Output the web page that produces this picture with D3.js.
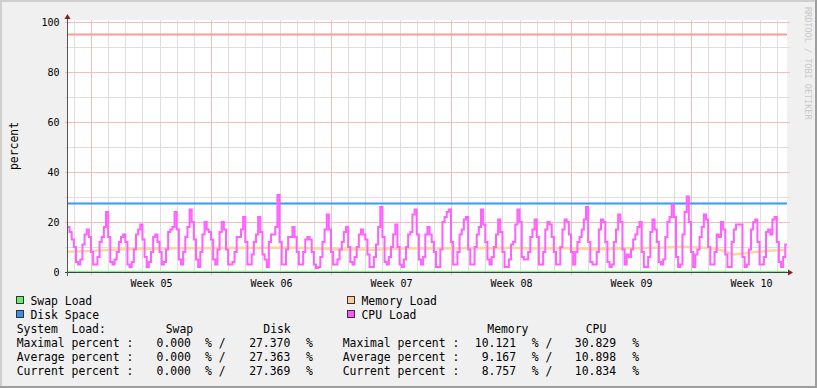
<!DOCTYPE html>
<html>
<head>
<meta charset="utf-8">
<script src="https://cdn.jsdelivr.net/npm/d3@7"></script>
<style>
  body { margin: 0; background: #f0f0f0; }
  svg text { font-family: "DejaVu Sans Mono", monospace; white-space: pre; }
</style>
</head>
<body>
<div id="chart"></div>
<script>
// time is in hours, 0 = monday of week 05
var weekLabels = ["Week 05", "Week 06", "Week 07", "Week 08", "Week 09", "Week 10"];
var yTicks = [0, 20, 40, 60, 80, 100];
var threshold = 95;

// cpu load, 8 samples (3h) per day, days -2 .. 40
var cpuLoad = [
  6, 3, 3, 8, 18, 18, 16, 13,
  10, 4, 3, 5, 11, 15, 17, 14,
  8, 3, 3, 6, 12, 14, 18, 24,
  14, 4, 3, 5, 8, 12, 14, 15,
  12, 3, 2, 4, 9, 15, 17, 19,
  13, 6, 2, 4, 8, 14, 15, 12,
  8, 3, 4, 9, 16, 17, 18, 24,
  17, 5, 3, 8, 14, 18, 25, 20,
  13, 5, 2, 8, 15, 20, 17, 16,
  13, 5, 3, 9, 16, 20, 17, 9,
  3, 3, 4, 8, 14, 14, 17, 22,
  12, 3, 3, 7, 12, 15, 22, 16,
  7, 5, 2, 12, 15, 15, 18, 30.83,
  12, 3, 3, 9, 14, 14, 18, 14,
  8, 3, 3, 8, 13, 14, 13, 8,
  3, 1.5, 2, 6, 12, 17, 23, 17,
  8, 3, 3, 5, 9, 12, 16, 18,
  10, 4, 3, 6, 10, 15, 17, 15,
  13, 7, 2, 2, 6, 11, 18, 26,
  14, 4, 3, 6, 10, 15, 19, 10,
  3, 2, 5, 10, 15, 16, 23, 25,
  15, 5, 3, 6, 15, 18, 15, 12,
  8, 2, 2, 9, 20, 22, 24, 25,
  12, 3, 3, 8, 15, 17, 21, 22,
  9, 3, 3, 10, 15, 18, 25, 19,
  12, 5, 3, 6, 10, 15, 21, 16,
  8, 2, 2, 5, 11, 12, 19, 25,
  20, 6, 5, 5, 8, 14, 17, 21,
  14, 3, 3, 8, 17, 20, 19, 14,
  8, 3, 3, 10, 17, 21, 20, 15,
  8, 3, 8, 12, 14, 17, 21, 26,
  12, 4, 3, 3, 8, 17, 21, 20,
  12, 4, 2, 3, 12, 17, 23, 20,
  9, 3, 7, 6, 9, 13, 15, 18,
  20, 8, 2, 2, 6, 16, 21, 17,
  12, 4, 3, 5, 14, 20, 22, 27,
  22, 6, 2, 3, 15, 24, 30.2, 20,
  8, 2, 7, 9, 14, 18, 23, 21,
  10, 3, 3, 8, 15, 14, 20, 17,
  7, 2, 2, 12, 17, 19, 19, 19,
  6, 2, 3, 9, 17, 20, 21, 12,
  3, 3, 6, 16, 17, 15, 21, 22,
  12, 4, 2, 6, 11, 11, 11, 11
];

// memory load, one value per day (noon), days -2 .. 40
var memoryLoad = [8.1, 8.3, 8.6, 9.0, 9.2, 9.3, 9.4, 9.6, 9.5, 9.6, 9.7, 9.6, 9.7, 9.8, 9.6,
  9.3, 9.0, 9.1, 8.9, 9.2, 9.4, 9.5, 9.4, 9.5, 9.6, 9.5, 9.7, 9.4, 9.5, 9.6, 9.3, 9.1, 9.3,
  9.5, 9.6, 9.8, 10.1, 9.8, 9.3, 7.0, 7.8, 8.5, 8.8];

var diskSpace = [27.36, 27.36, 27.36, 27.36, 27.36, 27.37, 27.37, 27.37];
var swapLoad = [0, 0, 0, 0, 0, 0, 0, 0];

var statRows = ["Maximal percent :", "Average percent :", "Current percent :"];
var statSwap = ["0.000", "0.000", "0.000"];
var statDisk = ["27.370", "27.363", "27.369"];
var statMemory = ["10.121", "9.167", "8.757"];
var statCpu = ["30.829", "10.898", "10.834"];

var width = 817, height = 388;
var pLeft = 67, pRight = 787, pTop = 22, pBottom = 272;

var svg = d3.select("#chart").append("svg")
    .attr("width", width).attr("height", height);

// frame
svg.append("rect").attr("width", width).attr("height", height).attr("fill", "#f0f0f0");
svg.append("rect").attr("x", 0).attr("y", 0).attr("width", width).attr("height", 2).attr("fill", "#cfcfcf");
svg.append("rect").attr("x", 0).attr("y", 0).attr("width", 2).attr("height", height).attr("fill", "#cfcfcf");
svg.append("rect").attr("x", width - 2).attr("y", 0).attr("width", 2).attr("height", height).attr("fill", "#9e9e9e");
svg.append("rect").attr("x", 0).attr("y", height - 2).attr("width", width).attr("height", 2).attr("fill", "#9e9e9e");

var x = d3.scaleLinear().domain([-33.6, 974.4]).range([pLeft, pRight]);
var y = d3.scaleLinear().domain([0, 100]).range([pBottom, pTop]);

// canvas
svg.append("rect").attr("x", pLeft).attr("y", pTop - 2)
    .attr("width", pRight - pLeft).attr("height", pBottom - pTop + 2).attr("fill", "#fff");

var grid = svg.append("g").attr("shape-rendering", "crispEdges");

// minor grid: days and 10%
var days = d3.range(-1, 41).map(function(d) { return d * 24; }).filter(function(h) { return h % 168 !== 0; });
grid.selectAll(".vminor").data(days).enter().append("line")
    .attr("x1", function(d) { return Math.round(x(d)) + 0.5; })
    .attr("x2", function(d) { return Math.round(x(d)) + 0.5; })
    .attr("y1", pTop - 2).attr("y2", pBottom + 2)
    .attr("stroke", "#dedede");
grid.selectAll(".hminor").data(d3.range(10, 100, 20)).enter().append("line")
    .attr("x1", pLeft - 2).attr("x2", pRight + 3)
    .attr("y1", function(d) { return Math.round(y(d)) + 0.5; })
    .attr("y2", function(d) { return Math.round(y(d)) + 0.5; })
    .attr("stroke", "#dedede");

// major grid: weeks and 20%
var weeks = d3.range(0, 6).map(function(d) { return d * 168; });
grid.selectAll(".vmajor").data(weeks).enter().append("line")
    .attr("x1", function(d) { return Math.round(x(d)) + 0.5; })
    .attr("x2", function(d) { return Math.round(x(d)) + 0.5; })
    .attr("y1", pTop - 2).attr("y2", pBottom + 3)
    .attr("stroke", "#f5bcbc");
grid.selectAll(".hmajor").data(yTicks.slice(1)).enter().append("line")
    .attr("x1", pLeft - 2).attr("x2", pRight + 3)
    .attr("y1", function(d) { return Math.round(y(d)) + 0.5; })
    .attr("y2", function(d) { return Math.round(y(d)) + 0.5; })
    .attr("stroke", "#f5bcbc");

// data
svg.append("clipPath").attr("id", "clip").append("rect")
    .attr("x", pLeft).attr("y", 0).attr("width", pRight - pLeft).attr("height", pBottom + 2);
var plot = svg.append("g").attr("clip-path", "url(#clip)");

var stepLine = d3.line().curve(d3.curveStepAfter)
    .x(function(d) { return x(d[0]); }).y(function(d) { return y(d[1]); });
var smoothLine = d3.line()
    .x(function(d) { return x(d[0]); }).y(function(d) { return y(d[1]); });

var swapPts = swapLoad.map(function(v, i) { return [-48 + i * 168, v]; });
var diskPts = diskSpace.map(function(v, i) { return [-48 + i * 168, v]; });
var memPts = memoryLoad.map(function(v, i) { return [-36 + i * 24, v]; });
var cpuPts = cpuLoad.map(function(v, i) { return [-48 + i * 3, v]; });

plot.append("path").attr("d", stepLine(swapPts)).attr("fill", "none")
    .attr("stroke", "#66ff66").attr("stroke-width", 2);
plot.append("path").attr("d", smoothLine(memPts)).attr("fill", "none")
    .attr("stroke", "#ffd49c").attr("stroke-width", 2.5);
plot.append("path").attr("d", stepLine(diskPts)).attr("fill", "none")
    .attr("stroke", "#3399ff").attr("stroke-width", 2);
plot.append("path").attr("d", stepLine(cpuPts)).attr("fill", "none")
    .attr("stroke", "#ff60ff").attr("stroke-width", 2);

// threshold rule
svg.append("line").attr("x1", pLeft).attr("x2", pRight)
    .attr("y1", y(threshold)).attr("y2", y(threshold))
    .attr("stroke", "#ff9999").attr("stroke-width", 2);

// axes
var axisColor = "#2c4d43";
svg.append("line").attr("x1", pLeft - 2).attr("x2", pRight + 3)
    .attr("y1", pBottom + 0.5).attr("y2", pBottom + 0.5)
    .attr("stroke", axisColor).attr("shape-rendering", "crispEdges");
svg.append("line").attr("x1", pLeft + 0.5).attr("x2", pLeft + 0.5)
    .attr("y1", pTop - 4).attr("y2", pBottom + 4)
    .attr("stroke", "#555").attr("shape-rendering", "crispEdges");
svg.append("path").attr("d", "M" + (pRight + 1) + "," + (pBottom - 2.5) + "L" + (pRight + 6) + "," + (pBottom + 0.5) + "L" + (pRight + 1) + "," + (pBottom + 3.5) + "Z")
    .attr("fill", "#7f1f1f");
svg.append("path").attr("d", "M" + (pLeft - 2.5) + "," + (pTop - 3) + "L" + (pLeft + 0.5) + "," + (pTop - 8) + "L" + (pLeft + 3.5) + "," + (pTop - 3) + "Z")
    .attr("fill", "#7f1f1f");

var xAxis = d3.axisBottom(x)
    .tickValues(weekLabels.map(function(d, i) { return i * 168 + 84; }))
    .tickFormat(function(d, i) { return weekLabels[i]; })
    .tickSize(0).tickPadding(0);
var gx = svg.append("g").attr("transform", "translate(0," + pBottom + ")").call(xAxis);
gx.select(".domain").remove();
gx.selectAll("text").attr("dy", null).attr("y", 15)
    .attr("font-family", "DejaVu Sans Mono").attr("font-size", "10px").attr("fill", "#000");

var yAxis = d3.axisLeft(y).tickValues(yTicks).tickSize(0).tickPadding(0);
var gy = svg.append("g").attr("transform", "translate(" + (pLeft - 7.5) + ",0)").call(yAxis);
gy.select(".domain").remove();
gy.selectAll("text").attr("dy", "0.36em").attr("x", 0)
    .attr("font-family", "DejaVu Sans Mono").attr("font-size", "10px").attr("fill", "#000");

// unit label
svg.append("text").attr("transform", "translate(17.5,146) rotate(-90)")
    .attr("text-anchor", "middle").attr("font-size", "11.4px").text("percent");

// watermark
svg.append("text").attr("transform", "translate(804.5,7) rotate(90)")
    .attr("font-size", "8.5px").attr("fill", "#c8c8c8").text("RRDTOOL / TOBI OETIKER");

// legend
var legendItems = [
  {name: "Swap Load", color: "#66ee66", x: 16.5, row: 0},
  {name: "Memory Load", color: "#ffcc99", x: 347.5, row: 0},
  {name: "Disk Space", color: "#3a8ee6", x: 16.5, row: 1},
  {name: "CPU Load", color: "#ff55ff", x: 347.5, row: 1}
];
var rowY = function(r) { return 305 + r * 14; };
var legend = svg.append("g").attr("font-size", "11.4px");
legendItems.forEach(function(d) {
  legend.append("rect").attr("x", d.x).attr("y", rowY(d.row) - 8.5)
      .attr("width", 7).attr("height", 7).attr("fill", d.color)
      .attr("stroke", "#333").attr("shape-rendering", "crispEdges");
  legend.append("text").attr("x", d.x + 14).attr("y", rowY(d.row)).text(d.name);
});

legend.append("text").attr("x", 16.7).attr("y", rowY(2)).text("System  Load:");
legend.append("text").attr("x", 165.7).attr("y", rowY(2)).text("Swap");
legend.append("text").attr("x", 263.3).attr("y", rowY(2)).text("Disk");
legend.append("text").attr("x", 487.3).attr("y", rowY(2)).text("Memory");
legend.append("text").attr("x", 585.7).attr("y", rowY(2)).text("CPU");

statRows.forEach(function(label, i) {
  var yy = rowY(3 + i);
  legend.append("text").attr("x", 16.7).attr("y", yy).text(label);
  legend.append("text").attr("x", 190.9).attr("y", yy).attr("text-anchor", "end").text(statSwap[i]);
  legend.append("text").attr("x", 205).attr("y", yy).text("% /");
  legend.append("text").attr("x", 290.3).attr("y", yy).attr("text-anchor", "end").text(statDisk[i]);
  legend.append("text").attr("x", 306).attr("y", yy).text("%");
  legend.append("text").attr("x", 342.7).attr("y", yy).text(label);
  legend.append("text").attr("x", 516).attr("y", yy).attr("text-anchor", "end").text(statMemory[i]);
  legend.append("text").attr("x", 531.7).attr("y", yy).text("% /");
  legend.append("text").attr("x", 616).attr("y", yy).attr("text-anchor", "end").text(statCpu[i]);
  legend.append("text").attr("x", 632.3).attr("y", yy).text("%");
});
</script>
</body>
</html>
